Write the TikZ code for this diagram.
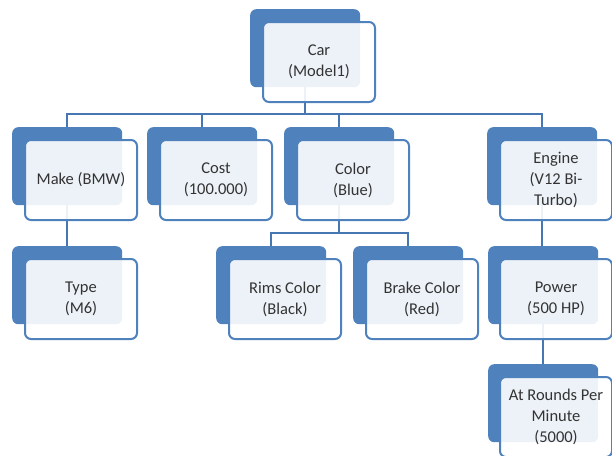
\documentclass[tikz,border=0pt]{standalone}
\usepackage{fontspec}
\setmainfont{Carlito}
\definecolor{obl}{HTML}{4F81BD}
\definecolor{conc}{HTML}{4677B3}
\definecolor{txt}{HTML}{333333}
\begin{document}
\begin{tikzpicture}[x=1pt,y=-1pt,
  backbox/.style={draw=none,fill=obl,rounded corners=6pt,minimum width=110pt,minimum height=78pt,anchor=north west,inner sep=0pt},
  frontbox/.style={draw=obl,line width=2pt,fill=white,fill opacity=0.9,text opacity=1,rounded corners=6pt,minimum width=112pt,minimum height=80pt,anchor=north west,inner sep=2pt,align=center,text=txt,font=\fontsize{16.5}{21}\selectfont},
  conn/.style={draw=conc,line width=2.4pt}]
\useasboundingbox (0,0) rectangle (612,455);
\begin{scope}
\clip (0,0) rectangle (612,455);
% back boxes
\node[backbox] (carB) at (250,9) {};
\node[backbox] (makeB) at (12,127) {};
\node[backbox] (costB) at (147,127) {};
\node[backbox] (colorB) at (284,127) {};
\node[backbox] (engineB) at (487,127) {};
\node[backbox] (typeB) at (12,246) {};
\node[backbox] (rimsB) at (216,246) {};
\node[backbox] (brakeB) at (353,246) {};
\node[backbox] (powerB) at (488,246) {};
\node[backbox] (rpmB) at (488,364) {};
% connectors
\coordinate (bar) at (0,114);
\coordinate (subbar) at (0,233);
\draw[conn] (carB.south) -- (carB.south |- bar);
\draw[conn] (makeB.north) -- (makeB.north |- bar) -- (engineB.north |- bar) -- (engineB.north);
\draw[conn] (costB.north) -- (costB.north |- bar);
\draw[conn] (colorB.north) -- (colorB.north |- bar);
\draw[conn] (makeB.south) -- (typeB.north);
\draw[conn] (colorB.south) -- (colorB.south |- subbar);
\draw[conn] (rimsB.north) -- (rimsB.north |- subbar) -- (brakeB.north |- subbar) -- (brakeB.north);
\draw[conn] (engineB.south) -- (engineB.south |- powerB.north);
\draw[conn] (powerB.south) -- (powerB.south |- rpmB.north);
% front boxes
\node[frontbox] (car) at (262,21) {Car\\(Model1)};
\node[frontbox] (make) at (24,139) {Make (BMW)};
\node[frontbox] (cost) at (159,139) {Cost\\(100.000)};
\node[frontbox] (color) at (296,139) {Color\\(Blue)};
\node[frontbox] (engine) at (499,139) {Engine\\(V12 Bi-\\Turbo)};
\node[frontbox] (type) at (24,258) {Type\\(M6)};
\node[frontbox] (rims) at (228,258) {Rims Color\\(Black)};
\node[frontbox] (brake) at (365,258) {Brake Color\\(Red)};
\node[frontbox] (power) at (499,258) {Power\\(500 HP)};
\node[frontbox] (rpm) at (499,376) {At Rounds Per\\Minute\\(5000)};
\end{scope}
\end{tikzpicture}
\end{document}
